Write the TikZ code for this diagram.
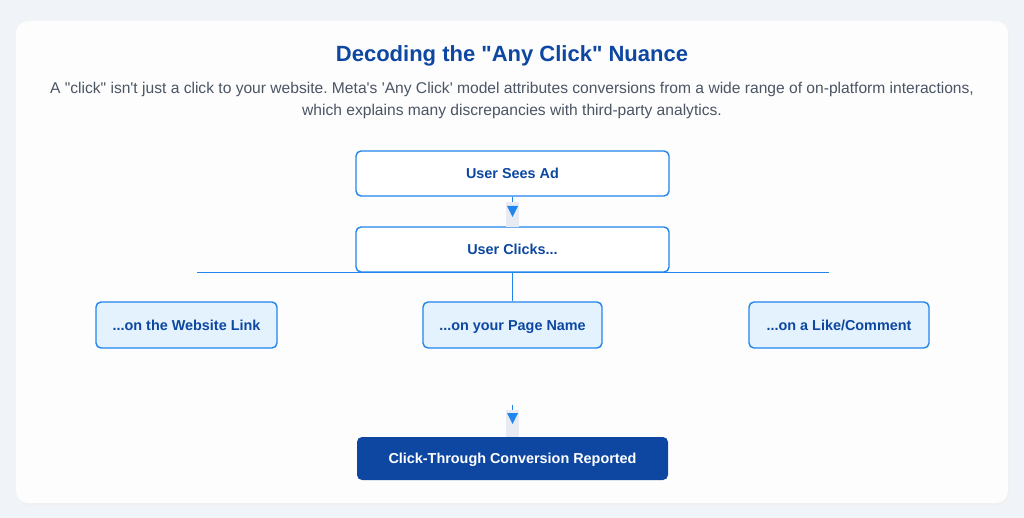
\documentclass[tikz,border=0pt]{standalone}
\usepackage{fontspec}
\defaultfontfeatures[\rmfamily]{}
\setmainfont{Liberation Sans}
\usetikzlibrary{positioning}
\frenchspacing
\definecolor{pagebg}{HTML}{F0F3F7}
\definecolor{cardbg}{HTML}{FDFDFE}
\definecolor{titleblue}{HTML}{0D47A1}
\definecolor{edgeblue}{HTML}{2185EE}
\definecolor{lightfill}{HTML}{E3F2FD}
\definecolor{subgray}{HTML}{4B5563}
\definecolor{arrowbg}{HTML}{E8ECF2}
\tikzset{
  flowbox/.style={draw=edgeblue, line width=1.4pt, rounded corners=5pt, fill=white,
    text=titleblue, font=\fontsize{14.4}{16}\selectfont\bfseries, inner sep=0pt,
    text height=10.4pt, text depth=0pt},
  optbox/.style={flowbox, fill=lightfill},
  endbox/.style={draw=none, rounded corners=5pt, fill=titleblue, text=white,
    font=\fontsize{14.4}{16}\selectfont\bfseries, inner sep=0pt,
    text height=10.4pt, text depth=0pt},
  tree/.style={draw=edgeblue, line width=0.8pt},
  tip/.style={fill=edgeblue, draw=none},
}
\begin{document}
\begin{tikzpicture}[x=1pt,y=-1pt]
\useasboundingbox (0,0) rectangle (1024,518);
\fill[pagebg] (0,0) rectangle (1024,518);
\fill[black!6] (17,23) [rounded corners=12pt] rectangle (1009,505);
\fill[cardbg, rounded corners=12pt] (16,21) rectangle (1008,503);

\node[text=titleblue, font=\fontsize{22}{24}\selectfont\bfseries] (title) at (512,56) {Decoding the "Any Click" Nuance};
\node[text=subgray, font=\fontsize{15.6}{17}\selectfont] (sub1) at (512,89) {A "click" isn't just a click to your website. Meta's 'Any Click' model attributes conversions from a wide range of on-platform interactions,};
\node[text=subgray, font=\fontsize{15.6}{17}\selectfont] (sub2) at (512,111) {which explains many discrepancies with third-party analytics.};

\node[flowbox, minimum width=313pt, minimum height=45pt] (sees) at (512.5,173.5) {User Sees Ad};
\node[flowbox, minimum width=313pt, minimum height=45pt] (clicks) at (512.5,249.5) {User Clicks...};

% arrow between sees and clicks
\fill[arrowbg] (506,202) rectangle (519,227);
\coordinate (a1) at (512.5,202);
\draw[tree] (sees.south) -- (a1);
\fill[tip] (507,206) -- (518,206) -- (512.5,217) -- cycle;

% tree
\coordinate (hl) at (197,272);
\coordinate (hr) at (829,272);
\coordinate (hm) at (512.5,272);
\draw[tree] (hl) -- (hr);

\node[optbox, minimum width=181pt, minimum height=46pt] (web) at (186.5,325) {...on the Website Link};
\node[optbox, minimum width=179pt, minimum height=46pt] (page) at (512.5,325) {...on your Page Name};
\node[optbox, minimum width=180pt, minimum height=46pt] (like) at (839,325) {...on a Like/Comment};
\draw[tree] (hm) -- (page.north);

% arrow to end
\fill[arrowbg] (506,410) rectangle (519,437);
\coordinate (a2t) at (512.5,405);
\coordinate (a2b) at (512.5,410);
\draw[tree] (a2t) -- (a2b);
\fill[tip] (507,413) -- (518,413) -- (512.5,424) -- cycle;

\node[endbox, minimum width=311pt, minimum height=43pt] (conv) at (512.5,458.5) {Click-Through Conversion Reported};
\end{tikzpicture}
\end{document}
